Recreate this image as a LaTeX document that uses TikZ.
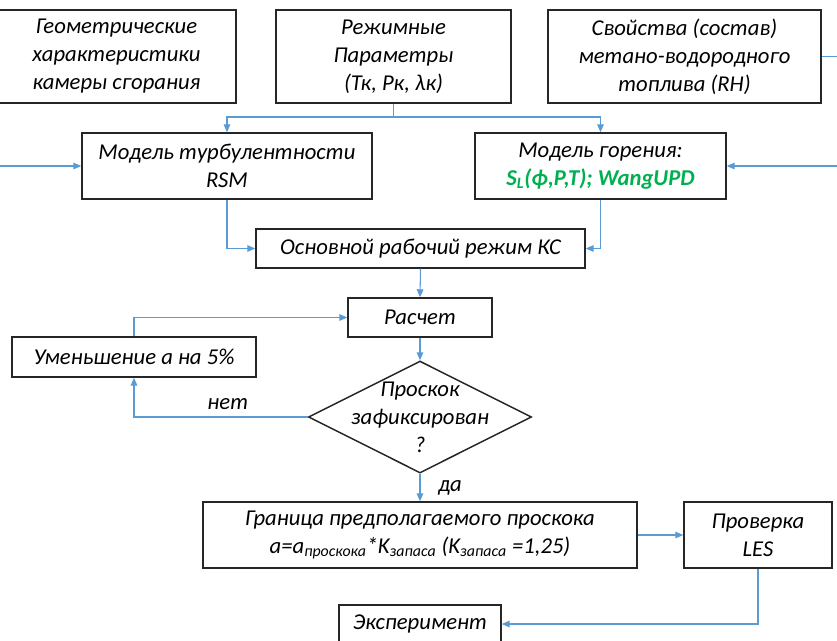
\documentclass[tikz,border=0pt]{standalone}
\usepackage{fontspec}
\setmainfont{Carlito}
\usetikzlibrary{arrows.meta, shapes.geometric, positioning}
\definecolor{strelka}{HTML}{5B9BD5}
\definecolor{zelen}{HTML}{00B050}

\begin{document}
\begin{tikzpicture}[x=0.75pt, y=-0.75pt, >={Triangle[length=6pt, width=5pt]},
    font=\fontsize{17}{21}\selectfont\itshape,
    blok/.style={rectangle, draw=black!85, line width=1.1pt, align=center, inner sep=0pt},
    svyaz/.style={->, draw=strelka, line width=0.8pt}]
        \useasboundingbox (0,0) rectangle (837,640);

        \node[blok, minimum width=179.25pt, minimum height=69.75pt] (geo) at (116.5,56.5) {Геометрические\\характеристики\\камеры сгорания};
        \node[blok, minimum width=176.25pt, minimum height=69.75pt] (rezh) at (393.5,56.5) {Режимные\\Параметры\\(Тк, Рк, λк)};
        \node[blok, minimum width=204.75pt, minimum height=69.75pt] (svoy) at (684.5,56.5) {Свойства (состав)\\метано-водородного\\топлива (RH)};

        \node[blok, minimum width=217.5pt, minimum height=49.5pt] (turb) at (227,166) {Модель турбулентности\\RSM};
        \node[blok, minimum width=188.25pt, minimum height=49.5pt] (gor) at (600.5,166) {Модель горения:\\{\bfseries\color{zelen}S\textsubscript{L}(ф,P,T); WangUPD}};

        \node[blok, minimum width=246.75pt, minimum height=29.25pt] (osn) at (420.5,248.5) {Основной рабочий режим КС};
        \node[blok, minimum width=108pt, minimum height=29.25pt] (rasch) at (420,317.5) {Расчет};
        \node[blok, minimum width=183pt, minimum height=30pt] (umen) at (134,357) {Уменьшение а на 5\%};

        \node[diamond, draw=black!85, line width=1.1pt, minimum width=167.25pt, minimum height=84pt, inner sep=0pt] (resh) at (420,417) {};
        \node[align=center] (reshtxt) at (resh.center) {Проскок\\зафиксирован\\?};

        \node[blok, minimum width=325.5pt, minimum height=49.5pt] (gran) at (420,535) {Граница предполагаемого проскока\\a=a\textsubscript{проскока}*K\textsubscript{запаса} (K\textsubscript{запаса} =1,25)};
        \node[blok, minimum width=111pt, minimum height=49.5pt] (prov) at (758,535) {Проверка\\LES};
        \node[blok, minimum width=121.5pt, minimum height=28.5pt] (eksp) at (420,624) {Эксперимент};

        \coordinate (vhodL) at (-5,166);
        \coordinate (vhodR) at (842,166);
        \coordinate (vyhod) at (842,56.5);
        \coordinate (razv) at (393.5,117);

        % Draw top arrows
        \draw[strelka, line width=0.8pt] (rezh.south) -- (razv);
        \draw[svyaz] (razv) -| (turb.north);
        \draw[svyaz] (razv) -| (gor.north);
        \draw[strelka, line width=0.8pt] (svoy.east) -- (vyhod);
        \draw[svyaz] (vhodL) -- (turb.west);
        \draw[svyaz] (vhodR) -- (gor.east);

        % Draw main line
        \draw[svyaz] (turb.south) |- (osn.west);
        \draw[svyaz] (gor.south) |- (osn.east);
        \draw[svyaz] (osn.south) -- (rasch.north);
        \draw[svyaz] (rasch.south) -- (resh.north);
        \draw[svyaz] (resh.west) -| node[pos=0.23, above=2pt] {нет} (umen.south);
        \draw[svyaz] (umen.north) |- (rasch.west);
        \draw[svyaz] (resh.south) -- node[right=10pt] {да} (gran.north);
        \draw[svyaz] (gran.east) -- (prov.west);
        \draw[svyaz] (prov.south) |- (eksp.east);

    \end{tikzpicture}
\end{document}
